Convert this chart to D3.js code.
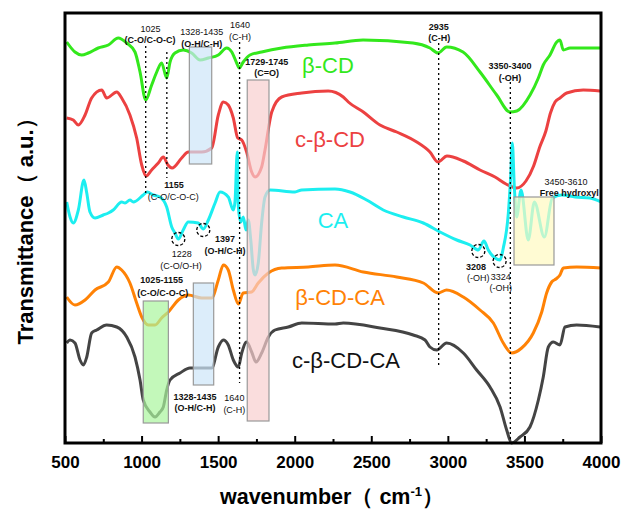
<!DOCTYPE html>
<html>
<head>
<meta charset="utf-8">
<script src="https://cdn.jsdelivr.net/npm/d3@7"></script>
<style>
  body { margin: 0; background: #fff; }
  #chart { width: 624px; height: 509px; }
  text { font-family: Arial, "Liberation Sans", sans-serif; }
</style>
</head>
<body>
<div id="chart"></div>
<script>
// spectra: [wavenumber, transmittance (a.u.)]
const betaCD = [
  [511, 401], [565, 391], [609, 388], [652, 390], [717, 395], [783, 398], [848, 405], [903, 400],
  [957, 391], [990, 371], [1027, 343], [1066, 358], [1099, 371], [1131, 380], [1164, 365], [1186, 381],
  [1218, 390], [1272, 393], [1327, 390], [1382, 383], [1436, 385], [1501, 388], [1556, 395], [1589, 391],
  [1621, 380], [1638, 375], [1664, 381], [1708, 388], [1784, 391], [1915, 395], [2089, 398], [2263, 400],
  [2446, 403], [2772, 400], [2883, 395], [2936, 390], [2992, 396], [3099, 391], [3210, 371], [3319, 348],
  [3406, 331], [3450, 332], [3537, 348], [3591, 365], [3623, 378], [3667, 388], [3711, 401], [3732, 403],
  [3754, 393], [3798, 395], [3994, 395]
];
const cBetaCD = [
  [511, 325], [554, 323], [587, 318], [631, 328], [674, 345], [740, 353], [772, 345], [838, 351],
  [870, 345], [924, 328], [968, 305], [1001, 278], [1030, 267], [1066, 273], [1109, 280], [1142, 286],
  [1172, 278], [1199, 275], [1262, 285], [1305, 291], [1393, 291], [1458, 295], [1501, 328], [1534, 341],
  [1566, 338], [1599, 325], [1628, 305], [1654, 303], [1686, 291], [1719, 271], [1741, 266], [1784, 276],
  [1806, 293], [1850, 331], [1915, 346], [2046, 350], [2219, 352], [2317, 346], [2350, 341], [2448, 331],
  [2557, 318], [2666, 311], [2797, 301], [2883, 291], [2936, 281], [2994, 287], [3101, 282], [3210, 273],
  [3308, 266], [3380, 259], [3449, 255], [3510, 262], [3560, 277], [3600, 296], [3640, 312], [3670, 330],
  [3700, 341], [3732, 345], [3776, 350], [3884, 353], [3994, 352]
];
const caSpec = [
  [511, 241], [533, 226], [554, 220], [587, 233], [624, 263], [642, 250], [663, 231], [696, 225],
  [750, 228], [783, 230], [815, 233], [870, 241], [892, 240], [924, 243], [946, 241], [1011, 248],
  [1037, 251], [1077, 248], [1120, 246], [1164, 236], [1197, 216], [1218, 210], [1240, 204], [1272, 213],
  [1305, 221], [1370, 220], [1403, 214], [1436, 223], [1480, 240], [1512, 251], [1566, 246], [1599, 233],
  [1610, 241], [1625, 291], [1632, 236], [1647, 221], [1664, 226], [1682, 213], [1697, 223], [1713, 203],
  [1730, 173], [1741, 168], [1762, 180], [1784, 220], [1806, 246], [1839, 253], [2002, 251], [2046, 253],
  [2263, 254], [2361, 251], [2470, 243], [2578, 233], [2709, 226], [2840, 220], [2949, 211], [3058, 203],
  [3145, 198], [3199, 193], [3236, 202], [3264, 193], [3308, 185], [3341, 183], [3362, 195], [3395, 230],
  [3409, 263], [3421, 300], [3434, 256], [3449, 226], [3478, 253], [3525, 203], [3565, 241], [3630, 206],
  [3682, 245], [3743, 248], [3830, 246], [3928, 245], [4000, 241]
];
const betaCDCA = [
  [511, 146], [565, 138], [631, 143], [696, 153], [783, 161], [838, 176], [870, 173], [924, 160],
  [968, 140], [1001, 126], [1044, 118], [1088, 118], [1131, 125], [1175, 131], [1240, 143], [1305, 148],
  [1393, 145], [1458, 145], [1501, 163], [1534, 178], [1566, 173], [1599, 153], [1632, 139], [1664, 150],
  [1719, 151], [1762, 160], [1828, 170], [1915, 175], [2089, 176], [2263, 178], [2448, 171], [2666, 166],
  [2840, 160], [2936, 150], [2992, 153], [3101, 146], [3210, 133], [3297, 120], [3362, 100], [3417, 90],
  [3482, 95], [3558, 110], [3613, 131], [3645, 150], [3678, 161], [3706, 164], [3732, 168], [3754, 175],
  [3841, 176], [4000, 175]
];
const cBetaCDCA = [
  [511, 100], [533, 103], [565, 100], [598, 83], [620, 78], [642, 86], [674, 110], [707, 113],
  [772, 118], [838, 116], [903, 106], [957, 86], [990, 63], [1011, 43], [1055, 31], [1088, 26],
  [1120, 31], [1142, 36], [1164, 53], [1186, 63], [1251, 70], [1316, 75], [1393, 75], [1458, 75],
  [1501, 96], [1534, 103], [1566, 98], [1599, 83], [1632, 76], [1654, 90], [1686, 101], [1719, 91],
  [1747, 81], [1784, 90], [1828, 106], [1871, 113], [1958, 116], [2046, 120], [2263, 119], [2317, 120],
  [2557, 115], [2774, 108], [2851, 103], [2883, 96], [2927, 93], [2992, 100], [3101, 90], [3188, 73],
  [3275, 56], [3341, 36], [3384, 13], [3417, 0], [3471, 6], [3536, 16], [3591, 43], [3623, 66],
  [3656, 96], [3689, 101], [3732, 98], [3765, 116], [3841, 118], [3994, 116]
];

const seriesNames = ['β-CD', 'c-β-CD', 'CA', 'β-CD-CA', 'c-β-CD-CA'];
const seriesColors = ['#33e81c', '#ec4141', '#1ceef0', '#ff8205', '#444444'];
const labelColors = ['#33e81c', '#ec4141', '#1ceef0', '#ff8205', '#111111'];
// where each series name sits: [wavenumber, a.u.]
const seriesLabelPos = [[2217, 370], [2230, 296], [2250, 215], [2296, 138], [2335, 75]];

// shaded bands: [from, to, low, high, fill]
const bands = [
  [1312, 1458, 279, 396, '#cde6f8'],
  [1690, 1832, 22, 363, '#f8cfcf'],
  [3432, 3693, 178, 246, '#fffac0'],
  [1011, 1175, 20, 142, '#a9f59d'],
  [1338, 1471, 58, 160, '#cde6f8']
];
// dotted marker lines: [wavenumber, top, bottom]
const markerLines = [[1027, 397, 250], [1165, 391, 265], [1640, 401, 60], [2940, 400, 78], [3408, 361, 1]];
// dashed circles round peaks
const peakCircles = [[1240, 204], [1403, 213], [3199, 192], [3338, 182]];
// annotations: [wavenumber, a.u., text, bold]
const notes = [
  [1058, 414, '1025', false], [1055, 403, '(C-O/C-O-C)', true],
  [1393, 411, '1328-1435', false], [1393, 399, '(O-H/C-H)', true],
  [1643, 418, '1640', false], [1643, 406, '(C-H)', false],
  [1817, 381, '1729-1745', true], [1817, 370, '(C=O)', true],
  [2940, 416, '2935', true], [2944, 405, '(C-H)', true],
  [3406, 377, '3350-3400', true], [3406, 365, '(-OH)', true],
  [1212, 258, '1155', true], [1207, 246, '(C-O/C-O-C)', false],
  [1262, 189, '1228', false], [1257, 177, '(C-O/O-H)', false],
  [1545, 204, '1397', true], [1545, 192, '(O-H/C-H)', true],
  [1131, 163, '1025-1155', true], [1138, 150, '(C-O/C-O-C)', true],
  [1349, 46, '1328-1435', true], [1349, 35, '(O-H/C-H)', true],
  [1606, 45, '1640', false], [1606, 33, '(C-H)', false],
  [3184, 176, '3208', true], [3199, 165, '(-OH)', false],
  [3345, 166, '3324', false], [3345, 155, '(-OH)', false],
  [3772, 261, '3450-3610', false], [3793, 250, 'Free hydroxyl', true]
];
const majorTicks = [500, 1000, 1500, 2000, 2500, 3000, 3500, 4000];
const minorTicks = [750, 1250, 1750, 2250, 2750, 3250, 3750];

const width = 624, height = 509;
const margin = { top: 13, right: 23, bottom: 66, left: 65 };

const svg = d3.select('#chart')
  .append('svg')
  .attr('width', width)
  .attr('height', height);

const x = d3.scaleLinear().domain([500, 4000]).range([margin.left, width - margin.right]);
const y = d3.scaleLinear().domain([0, 430]).range([height - margin.bottom, margin.top]);

const line = d3.line()
  .x(d => x(d[0]))
  .y(d => y(d[1]))
  .curve(d3.curveMonotoneX);

// spectra
const spectra = [betaCD, cBetaCD, caSpec, betaCDCA, cBetaCDCA];
svg.append('g')
  .selectAll('path')
  .data(spectra)
  .join('path')
  .attr('d', line)
  .attr('fill', 'none')
  .attr('stroke', (d, i) => seriesColors[i])
  .attr('stroke-width', 3)
  .attr('stroke-linejoin', 'round');

// shaded bands over the curves
svg.append('g')
  .selectAll('rect')
  .data(bands)
  .join('rect')
  .attr('x', d => x(d[0]))
  .attr('width', d => x(d[1]) - x(d[0]))
  .attr('y', d => y(d[3]))
  .attr('height', d => y(d[2]) - y(d[3]))
  .attr('fill', d => d[4])
  .attr('fill-opacity', 0.7)
  .attr('stroke', '#999')
  .attr('stroke-width', 1.2);

// dotted lines
svg.append('g')
  .selectAll('line')
  .data(markerLines)
  .join('line')
  .attr('x1', d => x(d[0]))
  .attr('x2', d => x(d[0]))
  .attr('y1', d => y(d[1]))
  .attr('y2', d => y(d[2]))
  .attr('stroke', '#000')
  .attr('stroke-width', 1.3)
  .attr('stroke-dasharray', '2,3');

svg.append('g')
  .selectAll('circle')
  .data(peakCircles)
  .join('circle')
  .attr('cx', d => x(d[0]))
  .attr('cy', d => y(d[1]))
  .attr('r', 6.5)
  .attr('fill', 'none')
  .attr('stroke', '#000')
  .attr('stroke-width', 1.3)
  .attr('stroke-dasharray', '3,2');

// small annotations
svg.append('g')
  .selectAll('text')
  .data(notes)
  .join('text')
  .attr('x', d => x(d[0]))
  .attr('y', d => y(d[1]))
  .attr('dy', '0.35em')
  .attr('text-anchor', 'middle')
  .attr('font-size', 9)
  .attr('font-weight', d => d[3] ? 'bold' : 'normal')
  .attr('fill', '#111')
  .text(d => d[2]);

// series names
svg.append('g')
  .selectAll('text')
  .data(seriesNames)
  .join('text')
  .attr('x', (d, i) => x(seriesLabelPos[i][0]))
  .attr('y', (d, i) => y(seriesLabelPos[i][1]))
  .attr('text-anchor', 'middle')
  .attr('font-size', 22)
  .attr('fill', (d, i) => labelColors[i])
  .text(d => d);

// x axis, ticks pointing inward
svg.append('g')
  .attr('transform', `translate(0,${height - margin.bottom})`)
  .call(d3.axisBottom(x).tickValues(majorTicks).tickFormat(d3.format('d'))
    .tickSizeInner(-7).tickSizeOuter(0).tickPadding(13))
  .call(g => g.select('.domain').remove())
  .call(g => g.selectAll('line').attr('stroke', '#000').attr('stroke-width', 2))
  .call(g => g.selectAll('text')
    .attr('font-size', 17)
    .attr('font-weight', 'bold')
    .attr('fill', '#000')
    .style('font-family', 'Arial, "Liberation Sans", sans-serif'));

svg.append('g')
  .attr('transform', `translate(0,${height - margin.bottom})`)
  .call(d3.axisBottom(x).tickValues(minorTicks).tickSizeInner(-4).tickSizeOuter(0).tickFormat(''))
  .call(g => g.select('.domain').remove())
  .call(g => g.selectAll('line').attr('stroke', '#000').attr('stroke-width', 2));

// frame
svg.append('rect')
  .attr('x', margin.left)
  .attr('y', margin.top)
  .attr('width', width - margin.left - margin.right)
  .attr('height', height - margin.top - margin.bottom)
  .attr('fill', 'none')
  .attr('stroke', '#000')
  .attr('stroke-width', 3);

// axis titles
const xTitle = svg.append('text')
  .attr('x', 332)
  .attr('y', 504)
  .attr('text-anchor', 'middle')
  .attr('font-size', 21.5)
  .attr('font-weight', 'bold')
  .text('wavenumber（ cm');
xTitle.append('tspan').attr('dy', -8).attr('font-size', 13).text('-1');
xTitle.append('tspan').attr('dy', 8).text('）');

svg.append('text')
  .attr('transform', 'translate(33,226) rotate(-90)')
  .attr('text-anchor', 'middle')
  .attr('font-size', 22)
  .attr('font-weight', 'bold')
  .text('Transmittance（ a.u.）');
</script>
</body>
</html>
